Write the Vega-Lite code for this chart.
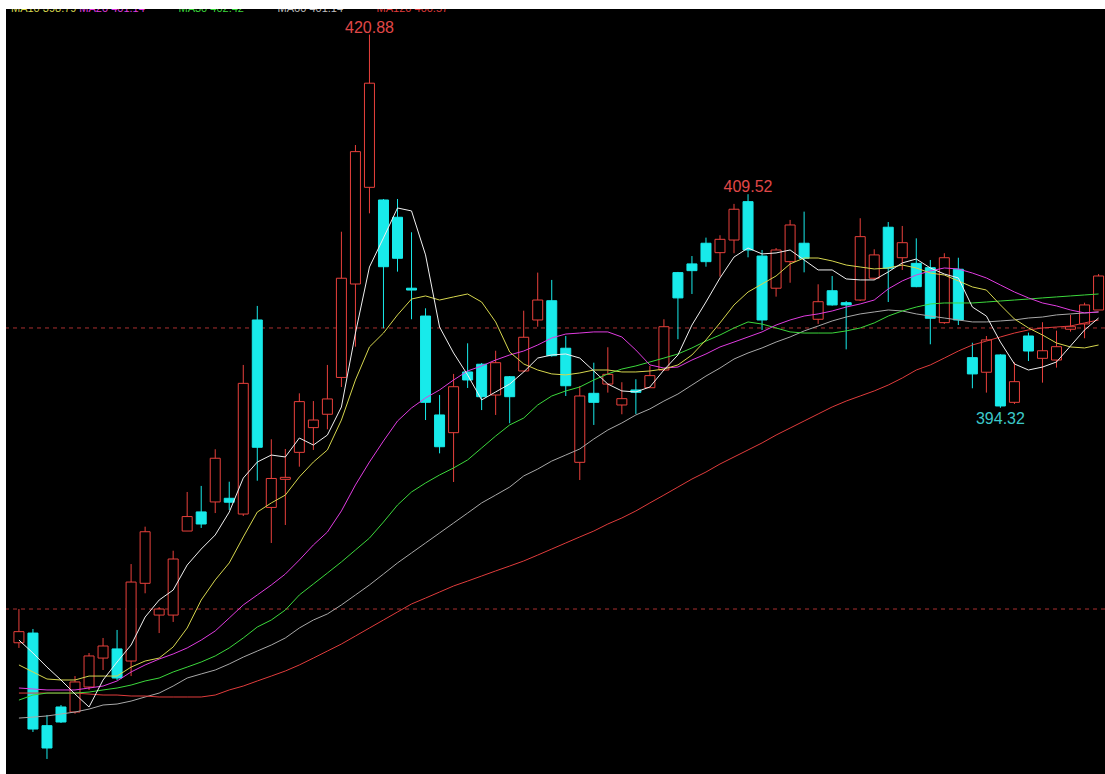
{
"$schema":"https://vega.github.io/schema/vega-lite/v6.json",
"autosize":{"type":"none"},
"padding":{"left":6,"top":9,"right":0,"bottom":0},
"width":1099,"height":765,
"background":"#ffffff",
"view":{"fill":"#000000","stroke":null},
"config":{"axis":{"grid":false}},
"datasets":{
"k":[
{"i":0,"o":377.60,"h":380.00,"l":377.23,"c":378.39,"m5":377.79,"m10":376.02,"m20":374.38,"m30":373.52,"m60":372.24,"m120":374.02},
{"i":1,"o":378.29,"h":378.58,"l":371.25,"c":371.46,"m5":376.87,"m10":375.52,"m20":374.31,"m30":373.88,"m60":372.31,"m120":374.02},
{"i":2,"o":371.70,"h":372.46,"l":369.33,"c":370.11,"m5":375.87,"m10":375.02,"m20":374.24,"m30":374.02,"m60":372.39,"m120":374.02},
{"i":3,"o":373.03,"h":373.17,"l":371.89,"c":371.96,"m5":374.95,"m10":374.95,"m20":374.24,"m30":374.02,"m60":372.53,"m120":374.02},
{"i":4,"o":372.67,"h":375.23,"l":372.55,"c":374.81,"m5":373.95,"m10":374.95,"m20":374.24,"m30":374.02,"m60":372.67,"m120":374.02},
{"i":5,"o":374.45,"h":376.87,"l":374.24,"c":376.66,"m5":373.03,"m10":375.23,"m20":374.38,"m30":374.09,"m60":372.88,"m120":373.95},
{"i":6,"o":376.51,"h":377.94,"l":375.66,"c":377.37,"m5":374.95,"m10":375.23,"m20":374.52,"m30":374.24,"m60":373.17,"m120":373.88},
{"i":7,"o":377.16,"h":378.51,"l":374.95,"c":375.09,"m5":376.23,"m10":375.23,"m20":374.88,"m30":374.38,"m60":373.24,"m120":373.88},
{"i":8,"o":376.30,"h":383.20,"l":375.23,"c":381.92,"m5":377.44,"m10":375.87,"m20":375.52,"m30":374.59,"m60":373.45,"m120":373.81},
{"i":9,"o":381.83,"h":385.86,"l":381.12,"c":385.50,"m5":379.43,"m10":376.30,"m20":376.02,"m30":374.88,"m60":373.74,"m120":373.81},
{"i":10,"o":379.57,"h":380.14,"l":378.29,"c":380.00,"m5":380.64,"m10":376.51,"m20":376.44,"m30":375.09,"m60":374.02,"m120":373.74},
{"i":11,"o":379.57,"h":384.15,"l":379.08,"c":383.56,"m5":381.35,"m10":377.30,"m20":376.80,"m30":375.52,"m60":374.52,"m120":373.74},
{"i":12,"o":385.55,"h":388.33,"l":385.55,"c":386.58,"m5":383.13,"m10":378.65,"m20":377.23,"m30":375.87,"m60":375.09,"m120":373.74},
{"i":13,"o":386.91,"h":388.76,"l":385.77,"c":386.05,"m5":384.27,"m10":380.64,"m20":377.79,"m30":376.23,"m60":375.38,"m120":373.74},
{"i":14,"o":387.62,"h":391.37,"l":386.83,"c":390.73,"m5":385.27,"m10":382.07,"m20":378.44,"m30":376.66,"m60":375.66,"m120":373.88},
{"i":15,"o":387.88,"h":389.06,"l":387.05,"c":387.60,"m5":386.90,"m10":383.28,"m20":379.36,"m30":377.23,"m60":376.09,"m120":374.24},
{"i":16,"o":386.76,"h":397.37,"l":386.62,"c":396.06,"m5":389.32,"m10":385.13,"m20":380.29,"m30":377.94,"m60":376.58,"m120":374.52},
{"i":17,"o":400.57,"h":401.57,"l":389.13,"c":391.51,"m5":390.46,"m10":386.90,"m20":381.00,"m30":378.72,"m60":377.01,"m120":374.88},
{"i":18,"o":387.23,"h":392.08,"l":384.70,"c":389.29,"m5":390.96,"m10":387.55,"m20":381.71,"m30":379.22,"m60":377.44,"m120":375.23},
{"i":19,"o":389.23,"h":391.39,"l":385.98,"c":389.37,"m5":390.82,"m10":388.11,"m20":382.49,"m30":379.93,"m60":377.94,"m120":375.59},
{"i":20,"o":391.15,"h":395.35,"l":390.13,"c":394.76,"m5":392.17,"m10":389.40,"m20":383.49,"m30":381.00,"m60":378.65,"m120":376.02},
{"i":21,"o":392.91,"h":394.80,"l":391.32,"c":393.45,"m5":391.67,"m10":390.46,"m20":384.56,"m30":381.78,"m60":379.22,"m120":376.51},
{"i":22,"o":393.86,"h":397.37,"l":392.79,"c":394.95,"m5":392.38,"m10":391.32,"m20":385.48,"m30":382.56,"m60":379.65,"m120":377.01},
{"i":23,"o":396.48,"h":406.85,"l":395.80,"c":403.54,"m5":394.38,"m10":393.45,"m20":386.98,"m30":383.35,"m60":380.29,"m120":377.51},
{"i":24,"o":403.13,"h":413.02,"l":398.67,"c":412.55,"m5":399.64,"m10":396.30,"m20":388.83,"m30":384.20,"m60":381.00,"m120":378.08},
{"i":25,"o":410.01,"h":420.88,"l":408.16,"c":417.42,"m5":404.34,"m10":398.65,"m20":390.46,"m30":385.05,"m60":381.71,"m120":378.65},
{"i":26,"o":409.11,"h":409.18,"l":399.98,"c":404.36,"m5":406.41,"m10":399.64,"m20":391.96,"m30":386.19,"m60":382.49,"m120":379.22},
{"i":27,"o":407.88,"h":409.18,"l":404.01,"c":404.96,"m5":408.54,"m10":400.93,"m20":393.38,"m30":387.40,"m60":383.28,"m120":379.79},
{"i":28,"o":402.83,"h":406.81,"l":400.62,"c":402.70,"m5":408.33,"m10":402.06,"m20":394.31,"m30":388.33,"m60":383.99,"m120":380.36},
{"i":29,"o":400.85,"h":401.40,"l":393.45,"c":394.71,"m5":405.20,"m10":402.28,"m20":395.02,"m30":388.97,"m60":384.70,"m120":380.78},
{"i":30,"o":393.81,"h":395.23,"l":391.08,"c":391.55,"m5":400.07,"m10":401.99,"m20":395.59,"m30":389.54,"m60":385.41,"m120":381.21},
{"i":31,"o":392.55,"h":396.73,"l":389.04,"c":395.82,"m5":398.22,"m10":402.21,"m20":396.30,"m30":390.04,"m60":386.12,"m120":381.64},
{"i":32,"o":396.87,"h":398.91,"l":395.73,"c":396.30,"m5":396.66,"m10":402.42,"m20":396.94,"m30":390.61,"m60":386.83,"m120":381.99},
{"i":33,"o":397.42,"h":397.51,"l":394.16,"c":395.11,"m5":394.88,"m10":401.85,"m20":397.30,"m30":391.46,"m60":387.55,"m120":382.35},
{"i":34,"o":395.23,"h":398.38,"l":393.81,"c":397.53,"m5":395.45,"m10":400.43,"m20":397.72,"m30":392.31,"m60":388.11,"m120":382.71},
{"i":35,"o":396.53,"h":396.58,"l":393.22,"c":395.11,"m5":396.01,"m10":398.29,"m20":398.08,"m30":393.10,"m60":388.68,"m120":383.06},
{"i":36,"o":396.94,"h":401.23,"l":396.87,"c":399.34,"m5":396.87,"m10":397.44,"m20":398.36,"m30":393.59,"m60":389.47,"m120":383.42},
{"i":37,"o":400.57,"h":403.94,"l":400.09,"c":401.99,"m5":397.86,"m10":397.01,"m20":398.79,"m30":394.52,"m60":389.96,"m120":383.84},
{"i":38,"o":401.94,"h":403.42,"l":397.96,"c":398.03,"m5":398.08,"m10":396.73,"m20":399.29,"m30":395.16,"m60":390.53,"m120":384.27},
{"i":39,"o":398.56,"h":399.43,"l":395.16,"c":395.89,"m5":398.15,"m10":396.66,"m20":399.57,"m30":395.52,"m60":390.96,"m120":384.70},
{"i":40,"o":390.44,"h":395.87,"l":389.18,"c":395.16,"m5":397.86,"m10":396.80,"m20":399.64,"m30":395.80,"m60":391.39,"m120":385.13},
{"i":41,"o":395.35,"h":397.53,"l":393.10,"c":394.71,"m5":396.94,"m10":397.01,"m20":399.72,"m30":396.30,"m60":392.10,"m120":385.55},
{"i":42,"o":396.01,"h":398.63,"l":395.40,"c":396.70,"m5":396.01,"m10":397.01,"m20":399.72,"m30":396.73,"m60":392.74,"m120":386.05},
{"i":43,"o":394.52,"h":396.14,"l":393.86,"c":394.97,"m5":395.52,"m10":396.87,"m20":399.36,"m30":397.08,"m60":393.24,"m120":386.48},
{"i":44,"o":395.59,"h":396.35,"l":393.88,"c":395.42,"m5":395.45,"m10":396.87,"m20":398.43,"m30":397.30,"m60":393.81,"m120":386.98},
{"i":45,"o":395.75,"h":397.30,"l":395.73,"c":396.61,"m5":395.80,"m10":396.94,"m20":397.37,"m30":397.58,"m60":394.24,"m120":387.55},
{"i":46,"o":397.01,"h":400.62,"l":396.94,"c":400.09,"m5":397.01,"m10":397.08,"m20":397.15,"m30":397.86,"m60":394.80,"m120":388.11},
{"i":47,"o":403.94,"h":403.99,"l":399.20,"c":402.14,"m5":398.08,"m10":397.37,"m20":397.22,"m30":398.15,"m60":395.30,"m120":388.68},
{"i":48,"o":404.56,"h":405.12,"l":402.42,"c":404.08,"m5":400.21,"m10":398.08,"m20":397.72,"m30":398.58,"m60":395.94,"m120":389.25},
{"i":49,"o":406.03,"h":406.43,"l":404.36,"c":404.72,"m5":401.85,"m10":399.15,"m20":398.15,"m30":399.07,"m60":396.58,"m120":389.75},
{"i":50,"o":405.36,"h":406.60,"l":403.65,"c":406.31,"m5":403.56,"m10":400.36,"m20":398.65,"m30":399.50,"m60":397.15,"m120":390.32},
{"i":51,"o":406.26,"h":408.83,"l":405.32,"c":408.45,"m5":405.05,"m10":401.64,"m20":399.00,"m30":400.00,"m60":397.79,"m120":390.82},
{"i":52,"o":408.99,"h":409.52,"l":405.03,"c":405.55,"m5":405.69,"m10":402.56,"m20":399.36,"m30":400.43,"m60":398.22,"m120":391.32},
{"i":53,"o":405.12,"h":405.55,"l":399.86,"c":400.57,"m5":405.27,"m10":403.13,"m20":399.72,"m30":400.28,"m60":398.58,"m120":391.82},
{"i":54,"o":402.83,"h":405.69,"l":402.23,"c":405.55,"m5":405.34,"m10":403.70,"m20":400.21,"m30":400.00,"m60":399.00,"m120":392.38},
{"i":55,"o":404.72,"h":407.69,"l":403.22,"c":407.33,"m5":405.55,"m10":404.56,"m20":400.57,"m30":399.72,"m60":399.36,"m120":392.88},
{"i":56,"o":406.03,"h":408.28,"l":403.96,"c":404.96,"m5":404.84,"m10":404.98,"m20":400.85,"m30":399.64,"m60":399.79,"m120":393.38},
{"i":57,"o":400.62,"h":403.11,"l":400.29,"c":401.87,"m5":404.13,"m10":404.98,"m20":401.00,"m30":399.64,"m60":400.14,"m120":393.88},
{"i":58,"o":402.65,"h":403.70,"l":401.59,"c":401.64,"m5":404.13,"m10":404.77,"m20":401.21,"m30":399.64,"m60":400.50,"m120":394.38},
{"i":59,"o":401.80,"h":401.92,"l":398.48,"c":401.64,"m5":403.49,"m10":404.48,"m20":401.49,"m30":399.79,"m60":400.78,"m120":394.80},
{"i":60,"o":401.99,"h":407.81,"l":401.92,"c":406.50,"m5":403.42,"m10":404.34,"m20":401.71,"m30":400.00,"m60":401.00,"m120":395.16},
{"i":61,"o":403.54,"h":405.60,"l":403.42,"c":405.20,"m5":403.42,"m10":404.20,"m20":401.99,"m30":400.36,"m60":401.14,"m120":395.52},
{"i":62,"o":407.17,"h":407.54,"l":401.85,"c":404.25,"m5":403.99,"m10":404.27,"m20":402.78,"m30":400.85,"m60":401.28,"m120":395.94},
{"i":63,"o":405.00,"h":407.26,"l":404.13,"c":406.07,"m5":404.63,"m10":404.48,"m20":403.35,"m30":401.21,"m60":401.21,"m120":396.44},
{"i":64,"o":404.60,"h":406.38,"l":402.90,"c":402.94,"m5":404.91,"m10":404.27,"m20":403.77,"m30":401.49,"m60":401.00,"m120":397.01},
{"i":65,"o":404.29,"h":404.84,"l":398.84,"c":400.69,"m5":404.27,"m10":403.91,"m20":404.06,"m30":401.71,"m60":400.85,"m120":397.37},
{"i":66,"o":400.38,"h":405.32,"l":400.29,"c":405.00,"m5":403.84,"m10":403.77,"m20":404.27,"m30":401.78,"m60":400.71,"m120":397.86},
{"i":67,"o":404.18,"h":405.00,"l":400.21,"c":400.57,"m5":403.56,"m10":403.35,"m20":404.20,"m30":401.78,"m60":400.57,"m120":398.36},
{"i":68,"o":397.89,"h":398.95,"l":395.71,"c":396.73,"m5":401.49,"m10":402.92,"m20":403.91,"m30":401.78,"m60":400.43,"m120":398.79},
{"i":69,"o":396.85,"h":399.43,"l":395.40,"c":399.15,"m5":400.85,"m10":402.70,"m20":403.56,"m30":401.85,"m60":400.43,"m120":399.07},
{"i":70,"o":398.08,"h":398.13,"l":394.32,"c":394.45,"m5":399.00,"m10":401.64,"m20":403.06,"m30":401.92,"m60":400.50,"m120":399.36},
{"i":71,"o":394.71,"h":397.56,"l":394.59,"c":396.18,"m5":397.44,"m10":400.64,"m20":402.56,"m30":401.99,"m60":400.57,"m120":399.64},
{"i":72,"o":399.43,"h":399.67,"l":397.65,"c":398.36,"m5":397.01,"m10":400.00,"m20":402.14,"m30":402.06,"m60":400.71,"m120":399.86},
{"i":73,"o":397.84,"h":400.41,"l":396.11,"c":398.38,"m5":397.22,"m10":399.50,"m20":401.78,"m30":402.14,"m60":400.78,"m120":400.00},
{"i":74,"o":397.72,"h":399.81,"l":397.18,"c":398.67,"m5":397.58,"m10":398.93,"m20":401.57,"m30":402.21,"m60":400.93,"m120":400.07},
{"i":75,"o":399.91,"h":400.93,"l":399.74,"c":400.09,"m5":398.72,"m10":398.65,"m20":401.28,"m30":402.28,"m60":401.00,"m120":400.14},
{"i":76,"o":400.29,"h":401.80,"l":399.27,"c":401.64,"m5":399.86,"m10":398.58,"m20":401.07,"m30":402.35,"m60":401.07,"m120":400.36},
{"i":77,"o":401.28,"h":403.84,"l":401.28,"c":403.70,"m5":400.71,"m10":398.79,"m20":401.14,"m30":402.42,"m60":401.14,"m120":400.57}
],
"ref":[{"v":400},{"v":380}],
"lab":[{"i":25,"v":420.88,"t":"420.88","side":"top"},{"i":52,"v":409.52,"t":"409.52","side":"top"},{"i":70,"v":394.32,"t":"394.32","side":"bottom"}],
"leg":[{"i":-0.5654,"t":"MA10 398.79","ma":"MA10"},{"i":4.31,"t":"MA20 401.14","ma":"MA20"},{"i":11.38,"t":"MA30 402.42","ma":"MA30"},{"i":18.45,"t":"MA60 401.14","ma":"MA60"},{"i":25.51,"t":"MA120 400.57","ma":"MA120"}]
},
"layer":[
{"data":{"name":"ref"},"mark":{"type":"rule","strokeDash":[4,4],"strokeWidth":1,"color":"#a83030"},
 "encoding":{"y":{"field":"v","type":"quantitative","scale":{"domain":[368.26,422.70],"zero":false,"nice":false},"axis":null}}},
{"data":{"name":"k"},"mark":{"type":"rule","strokeWidth":1,"clip":true},
 "encoding":{"x":{"field":"i","type":"quantitative","scale":{"domain":[-0.5654,77.102],"zero":false,"nice":false},"axis":null},
  "y":{"field":"l","type":"quantitative","scale":{"domain":[368.26,422.70],"zero":false,"nice":false},"axis":null},
  "y2":{"field":"h"},
  "color":{"condition":{"test":"datum.c >= datum.o","value":"#e8403c"},"value":"#18eaea"}}},
{"data":{"name":"k"},"mark":{"type":"bar","size":10,"strokeWidth":1,"clip":true},
 "encoding":{"x":{"field":"i","type":"quantitative","scale":{"domain":[-0.5654,77.102],"zero":false,"nice":false},"axis":null},
  "y":{"field":"o","type":"quantitative","scale":{"domain":[368.26,422.70],"zero":false,"nice":false},"axis":null},
  "y2":{"field":"c"},
  "fill":{"condition":{"test":"datum.c >= datum.o","value":"#000000"},"value":"#18eaea"},
  "stroke":{"condition":{"test":"datum.c >= datum.o","value":"#e8403c"},"value":"#18eaea"}}},
{"data":{"name":"k"},"mark":{"type":"line","strokeWidth":1,"color":"#a8a8a8","clip":true},
 "encoding":{"x":{"field":"i","type":"quantitative","axis":null},"y":{"field":"m60","type":"quantitative","axis":null}}},
{"data":{"name":"k"},"mark":{"type":"line","strokeWidth":1,"color":"#e03c3c","clip":true},
 "encoding":{"x":{"field":"i","type":"quantitative","axis":null},"y":{"field":"m120","type":"quantitative","axis":null}}},
{"data":{"name":"k"},"mark":{"type":"line","strokeWidth":1,"color":"#3cd83c","clip":true},
 "encoding":{"x":{"field":"i","type":"quantitative","axis":null},"y":{"field":"m30","type":"quantitative","axis":null}}},
{"data":{"name":"k"},"mark":{"type":"line","strokeWidth":1,"color":"#e03ce0","clip":true},
 "encoding":{"x":{"field":"i","type":"quantitative","axis":null},"y":{"field":"m20","type":"quantitative","axis":null}}},
{"data":{"name":"k"},"mark":{"type":"line","strokeWidth":1,"color":"#d6d64e","clip":true},
 "encoding":{"x":{"field":"i","type":"quantitative","axis":null},"y":{"field":"m10","type":"quantitative","axis":null}}},
{"data":{"name":"k"},"mark":{"type":"line","strokeWidth":1,"color":"#f0f0f0","clip":true},
 "encoding":{"x":{"field":"i","type":"quantitative","axis":null},"y":{"field":"m5","type":"quantitative","axis":null}}},
{"data":{"name":"lab"},"transform":[{"filter":"datum.side == 'top'"}],
 "mark":{"type":"text","font":"Liberation Sans","fontSize":16,"baseline":"alphabetic","align":"center","dy":-2,"color":"#e04848"},
 "encoding":{"x":{"field":"i","type":"quantitative","axis":null},"y":{"field":"v","type":"quantitative","axis":null},"text":{"field":"t"}}},
{"data":{"name":"lab"},"transform":[{"filter":"datum.side == 'bottom'"}],
 "mark":{"type":"text","font":"Liberation Sans","fontSize":16,"baseline":"top","align":"center","dy":3,"color":"#3cc8c8"},
 "encoding":{"x":{"field":"i","type":"quantitative","axis":null},"y":{"field":"v","type":"quantitative","axis":null},"text":{"field":"t"}}},
{"data":{"name":"leg"},
 "mark":{"type":"text","font":"Liberation Sans","fontSize":11,"baseline":"bottom","align":"left","dy":5,"clip":true},
 "encoding":{"x":{"field":"i","type":"quantitative","axis":null},"y":{"datum":422.70,"type":"quantitative","axis":null},"text":{"field":"t"},
  "color":{"field":"ma","type":"nominal","legend":null,"scale":{"domain":["MA10","MA20","MA30","MA60","MA120"],"range":["#d6d64e","#e03ce0","#3cd83c","#c0c0c0","#e03c3c"]}}}}
]
}
